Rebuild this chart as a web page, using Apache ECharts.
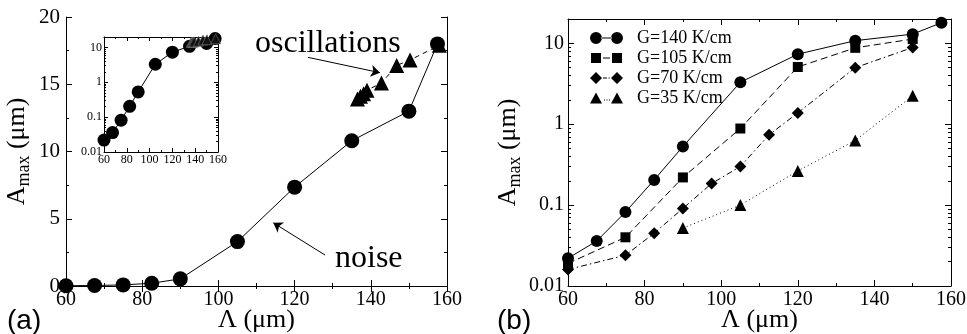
<!DOCTYPE html>
<html>
<head>
<meta charset="utf-8">
<script src="https://cdn.jsdelivr.net/npm/echarts@6/dist/echarts.min.js"></script>
<style>
  html, body { margin: 0; padding: 0; background: #fff; }
  #chart { width: 967px; height: 334px; }
</style>
</head>
<body>
<div id="chart"></div>
<script>
// wavelength (Lambda, um) and max amplitude (um)
const lam140 = [60, 67.5, 75, 82.5, 90, 105, 120, 135, 150, 157.5]
const g140 = [0.022, 0.036, 0.082, 0.205, 0.53, 3.3, 7.35, 10.8, 13.0, 18.0]

const lam105 = [60, 75, 90, 105, 120, 135, 150]
const g105 = [0.019, 0.040, 0.22, 0.885, 5.1, 8.8, 11.3]

const lam70 = [60, 75, 82.5, 90, 97.5, 105, 112.5, 120, 135, 150]
const g70 = [0.016, 0.024, 0.045, 0.091, 0.185, 0.30, 0.74, 1.38, 5.0, 8.9]

const lam35 = [90, 105, 120, 135, 150]
const g35 = [0.052, 0.10, 0.265, 0.63, 2.25]

// oscillating branch at G=140 K/cm
const lamOsc = [136.5, 137.3, 138.1, 139, 142.8, 146.8, 150.3, 158]
const osc = [13.9, 14.1, 14.3, 14.55, 15.1, 16.4, 16.8, 17.9]

const xTicks = [60, 160, 20]
const linTicks = [0, 20, 5]
const logRange = [0.01, 20]

const legendNames = ['G=140 K/cm', 'G=105 K/cm', 'G=70 K/cm', 'G=35 K/cm']

const SERIF = '"Liberation Serif", "Times New Roman", "DejaVu Serif", serif'
const SANS = '"Liberation Sans", Arial, sans-serif'
const pairs = (xs, ys) => xs.map((x, i) => [x, ys[i]])

// legend icons: symbol - line - symbol
const icons = [
  'path://M0,6a6,6 0 1,0 12,0a6,6 0 1,0 -12,0Z M21,6a6,6 0 1,0 12,0a6,6 0 1,0 -12,0Z M11,5.5h11v1h-11Z',
  'path://M1,1h10v10h-10Z M22,1h10v10h-10Z M13,5.5h7v1h-7Z M0,0h0.01v12h-0.01Z M33,0h0.01v12h-0.01Z',
  'path://M0,6L6,0L12,6L6,12Z M21,6L27,0L33,6L27,12Z M13,5.5h4v1h-4Z M18.5,5.5h1.2v1h-1.2Z',
  'path://M0,12L6,1L12,12Z M21,12L27,1L33,12Z M14,8h1v1h-1Z M16.5,8h1v1h-1Z M19,8h1v1h-1Z'
]

const chart = echarts.init(document.getElementById('chart'))

const tick = (len, minorLen, split) => ({
  axisLine: { show: true, lineStyle: { color: '#000', width: 1 } },
  axisTick: { show: true, inside: true, length: len, lineStyle: { color: '#000', width: 1 } },
  minorTick: { show: true, splitNumber: split, length: minorLen, lineStyle: { color: '#000', width: 1 } },
  splitLine: { show: false },
  minorSplitLine: { show: false }
})

const xAx = (grid, pos, len, minorLen, fs, margin, name) => Object.assign({
  type: 'value', gridIndex: grid, position: pos,
  min: xTicks[0], max: xTicks[1], interval: xTicks[2],
  axisLabel: {
    show: pos === 'bottom', color: '#000', fontFamily: SERIF, fontSize: fs, margin: margin
  },
  name: name || '',
  nameLocation: 'middle',
  nameGap: 21,
  nameMoveOverlap: false,
  nameTextStyle: { color: '#000', fontFamily: SERIF, fontSize: 26 }
}, tick(len, minorLen, 2))

const yName = '{a|A}{s|max}{a| (μm)}'
const yNameStyle = {
  color: '#000',
  fontFamily: SERIF,
  rich: {
    a: { fontFamily: SERIF, fontSize: 26, color: '#000' },
    s: { fontFamily: SERIF, fontSize: 18, color: '#000', padding: [14, 0, 0, 0] }
  }
}

const yLin = (pos, withName) => Object.assign({
  type: 'value', gridIndex: 0, position: pos,
  min: linTicks[0], max: linTicks[1], interval: linTicks[2],
  axisLabel: { show: pos === 'left', color: '#000', fontFamily: SERIF, fontSize: 21, margin: 6 },
  name: withName ? yName : '',
  nameLocation: 'middle',
  nameRotate: 90,
  nameGap: 33,
  nameTextStyle: yNameStyle
}, tick(6, 3, 2))

const yLog = (grid, pos, len, minorLen, fs, margin, withName) => Object.assign({
  type: 'log', logBase: 10, gridIndex: grid, position: pos,
  min: logRange[0], max: logRange[1],
  axisLabel: {
    show: pos === 'left', color: '#000', fontFamily: SERIF, fontSize: fs, margin: margin,
    showMaxLabel: false
  },
  name: withName ? yName : '',
  nameLocation: 'middle',
  nameRotate: 90,
  nameGap: 44,
  nameTextStyle: yNameStyle
}, tick(len, minorLen, 9))

const lineSeries = (name, xi, yi, symbol, size, data, dash, extra) => Object.assign({
  name: name,
  type: 'line',
  xAxisIndex: xi,
  yAxisIndex: yi,
  symbol: symbol,
  symbolSize: size,
  data: data,
  color: '#000',
  itemStyle: { color: '#000', borderWidth: 0 },
  lineStyle: { color: '#000', width: 1, type: dash },
  emphasis: { disabled: true },
  silent: true,
  clip: false
}, extra || {})

const arrow = (a, b) => [{ coord: a }, { coord: b }]

const option = {
  animation: false,
  backgroundColor: '#fff',
  grid: [
    { left: 66, top: 17, width: 381, height: 269, outerBoundsMode: 'none' },
    { left: 104, top: 37, width: 114, height: 115, outerBoundsMode: 'none' },
    { left: 568, top: 19, width: 383, height: 267, outerBoundsMode: 'none' }
  ],
  xAxis: [
    xAx(0, 'bottom', 6, 3, 20, 4, 'Λ (μm)'),
    xAx(0, 'top', 6, 3, 20, 4),
    xAx(1, 'bottom', 4, 2, 12, 2),
    xAx(1, 'top', 4, 2, 12, 2),
    xAx(2, 'bottom', 6, 3, 20, 4, 'Λ (μm)'),
    xAx(2, 'top', 6, 3, 20, 4)
  ],
  yAxis: [
    yLin('left', true),
    yLin('right', false),
    yLog(1, 'left', 4, 2, 12, 2, false),
    yLog(1, 'right', 4, 2, 12, 2, false),
    yLog(2, 'left', 6, 3, 20, 4, true),
    yLog(2, 'right', 6, 3, 20, 4, false)
  ],
  legend: {
    orient: 'vertical',
    left: 585,
    top: 24,
    itemWidth: 33,
    itemHeight: 12,
    itemGap: 2,
    selectedMode: false,
    itemStyle: { color: '#000', borderWidth: 0 },
    textStyle: { color: '#000', fontFamily: SERIF, fontSize: 18, padding: [0, 0, 0, 9] },
    data: legendNames.map((n, i) => ({ name: n, icon: icons[i] }))
  },
  series: [
    lineSeries('a140', 0, 0, 'circle', 15, pairs(lam140, g140), 'solid', {
      markLine: {
        silent: true,
        symbol: ['none', 'arrow'],
        symbolSize: 9,
        label: { show: false },
        lineStyle: { color: '#000', width: 1, type: 'solid' },
        data: [
          arrow([123.5, 17.0], [142.4, 15.86]),
          arrow([128, 2.3], [114.4, 4.7])
        ]
      }
    }),
    lineSeries('aOsc', 0, 0, 'triangle', 15, pairs(lamOsc, osc), [5, 4], { z: 1 }),
    lineSeries('i140', 2, 2, 'circle', 13, pairs(lam140, g140), 'solid'),
    lineSeries('iOsc', 2, 2, 'triangle', 10, pairs(lamOsc, osc), [3, 3],
      { itemStyle: { color: '#111', borderColor: '#777', borderWidth: 0.6 } }),
    lineSeries(legendNames[0], 4, 4, 'circle', 12, pairs(lam140, g140), 'solid'),
    lineSeries(legendNames[1], 4, 4, 'rect', 10, pairs(lam105, g105), [7, 4]),
    lineSeries(legendNames[2], 4, 4, 'diamond', 12, pairs(lam70, g70), [6, 3, 1.5, 3]),
    lineSeries(legendNames[3], 4, 4, 'triangle', 12, pairs(lam35, g35), [1, 3])
  ],
  graphic: [
    { type: 'text', left: 7, top: 307, style: { text: '(a)', font: '28px ' + SANS, fill: '#000' } },
    { type: 'text', left: 497, top: 307, style: { text: '(b)', font: '28px ' + SANS, fill: '#000' } },
    { type: 'text', left: 255, top: 28, style: { text: 'oscillations', font: '32px ' + SERIF, fill: '#000' } },
    { type: 'text', left: 335, top: 243, style: { text: 'noise', font: '32px ' + SERIF, fill: '#000' } }
  ]
}

chart.setOption(option)
</script>
</body>
</html>
